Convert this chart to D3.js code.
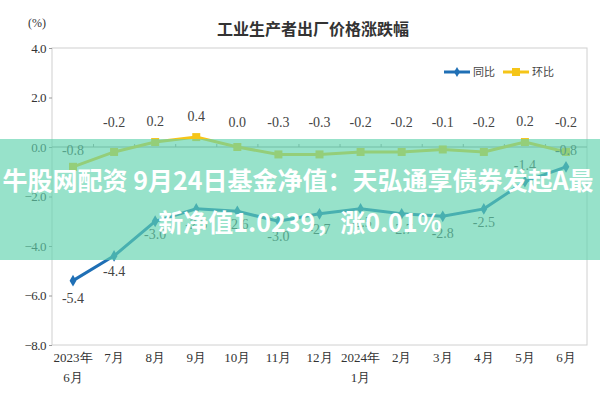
<!DOCTYPE html>
<html><head><meta charset="utf-8">
<script src="https://cdn.jsdelivr.net/npm/d3@7"></script>
<style>body{margin:0;background:#fff}svg{display:block}</style></head>
<body><svg id="c" width="600" height="400"></svg>
<script>
const months = ["2023年|6月","7月","8月","9月","10月","11月","12月","2024年|1月","2月","3月","4月","5月","6月"];
const yoy = [-5.4,-4.4,-3.0,-2.5,-2.6,-3.0,-2.7,-2.5,-2.7,-2.8,-2.5,-1.4,-0.8];
const mom = [-0.8,-0.2,0.2,0.4,0.0,-0.3,-0.3,-0.2,-0.2,-0.1,-0.2,0.2,-0.2];
const yTicks = [4,2,0,-2,-4,-6,-8];

const svg = d3.select("#c");
const L=52,R=587,T=48,B=345;
const x = d3.scalePoint().domain(d3.range(months.length)).range([73,566]);
const y = d3.scaleLinear().domain([-8,4]).range([B,T]);
const serif = "'Liberation Serif','DejaVu Serif',serif";
const cjk = "'Noto Sans CJK SC',sans-serif";

svg.append("rect").attr("x",L).attr("y",T).attr("width",R-L).attr("height",B-T).attr("fill","none").attr("stroke","#d0d0d0");
svg.append("line").attr("x1",L).attr("x2",R).attr("y1",y(0)).attr("y2",y(0)).attr("stroke","#999");
months.forEach((m,i)=>{ if(i>0){const xx=(x(i)+x(i-1))/2; svg.append("line").attr("x1",xx).attr("x2",xx).attr("y1",y(0)-3).attr("y2",y(0)).attr("stroke","#999");}});
const ya = svg.append("g").attr("transform",`translate(${L},0)`).call(d3.axisLeft(y).tickValues(yTicks).tickFormat(d3.format(".1f")).tickSize(3));
ya.select(".domain").remove();
ya.selectAll("text").attr("font-family",serif).attr("font-size",13).attr("fill","#333").attr("letter-spacing","-0.5");
ya.selectAll("line").attr("stroke","#999");

svg.append("text").attr("x",28).attr("y",27).attr("font-family",serif).attr("font-size",12).attr("fill","#333").text("(%)");
svg.append("text").attr("x",313).attr("y",35).attr("text-anchor","middle").attr("font-family",cjk).attr("font-size",16).attr("font-weight","bold").attr("fill","#333").text("工业生产者出厂价格涨跌幅");

months.forEach((m,i)=>{
  const parts=m.split("|");
  parts.forEach((p,j)=>svg.append("text").attr("x",x(i)).attr("y",362+j*20).attr("text-anchor","middle").attr("font-family",serif).attr("font-size",13).attr("fill","#333").text(p));
});

const line = d3.line().x((d,i)=>x(i)).y(d=>y(d));
svg.append("path").datum(mom).attr("d",line).attr("fill","none").attr("stroke","#f5c518").attr("stroke-width",3);
svg.selectAll(".mp").data(mom).join("rect").attr("x",(d,i)=>x(i)-4).attr("y",d=>y(d)-4).attr("width",8).attr("height",8).attr("fill","#f5c518");
svg.append("path").datum(yoy).attr("d",line).attr("fill","none").attr("stroke","#1f6fb5").attr("stroke-width",3);
svg.selectAll(".yp").data(yoy).join("path").attr("d",d3.symbol(d3.symbolDiamond,40)).attr("transform",(d,i)=>`translate(${x(i)},${y(d)})`).attr("fill","#1f6fb5");

svg.selectAll(".ml").data(mom).join("text").attr("x",(d,i)=>x(i)).attr("y",(d,i)=>i==0?y(d)-12:(d>0?y(d)-16:y(0)-20)).attr("text-anchor","middle").attr("font-family",serif).attr("font-size",14).attr("fill","#444").text(d=>d.toFixed(1));
const yoyOff=[22,20,18,20,18,20,20,18,20,22,18,-12,-12];
svg.selectAll(".yl").data(yoy).join("text").attr("x",(d,i)=>x(i)).attr("y",(d,i)=>y(d)+yoyOff[i]).attr("text-anchor","middle").attr("font-family",serif).attr("font-size",14).attr("fill","#444").text(d=>d.toFixed(1));

svg.append("line").attr("x1",444).attr("x2",470).attr("y1",72).attr("y2",72).attr("stroke","#1f6fb5").attr("stroke-width",3);
svg.append("path").attr("d",d3.symbol(d3.symbolDiamond,30)).attr("transform","translate(457,72)").attr("fill","#1f6fb5");
svg.append("text").attr("x",473).attr("y",76).attr("font-family",cjk).attr("font-size",11).attr("fill","#444").text("同比");
svg.append("line").attr("x1",503).attr("x2",529).attr("y1",72).attr("y2",72).attr("stroke","#f5c518").attr("stroke-width",3);
svg.append("rect").attr("x",512).attr("y",68).attr("width",8).attr("height",8).attr("fill","#f5c518");
svg.append("text").attr("x",532).attr("y",76).attr("font-family",cjk).attr("font-size",11).attr("fill","#444").text("环比");

svg.append("rect").attr("x",0).attr("y",139).attr("width",600).attr("height",121).attr("fill","#5fd3ad").attr("opacity",0.65);
const bt = svg.append("g").attr("font-family",cjk).attr("font-size",25).attr("font-weight","bold").attr("fill","#fff").attr("text-anchor","middle");
bt.append("text").attr("x",298).attr("y",190).text("牛股网配资 9月24日基金净值：天弘通享债券发起A最");
bt.append("text").attr("x",300).attr("y",232).text("新净值1.0239，涨0.01%");
</script></body></html>
